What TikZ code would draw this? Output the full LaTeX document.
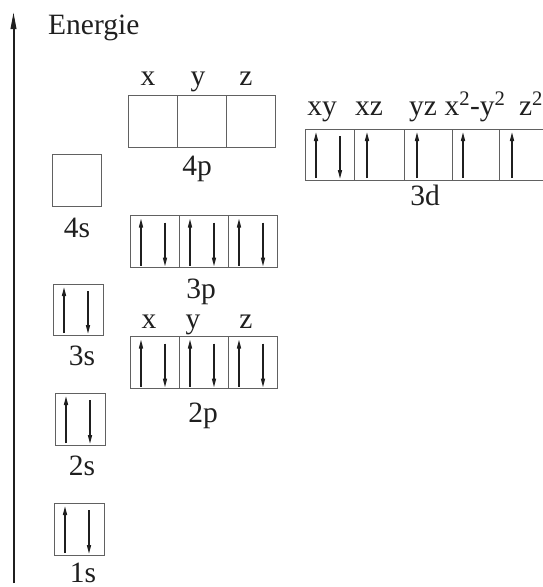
\documentclass[tikz,border=0pt]{standalone}
\usepackage{fontspec}
\setmainfont{Liberation Serif}
\usetikzlibrary{arrows.meta}
\definecolor{boxcol}{rgb}{0.38,0.38,0.38}
\definecolor{inkcol}{rgb}{0.12,0.12,0.12}
\begin{document}
\begin{tikzpicture}[x=1pt,y=-1pt,
  orb/.style={draw=boxcol,line width=0.9pt,minimum width=49pt,minimum height=52pt,inner sep=0pt,outer sep=0pt},
  lbl/.style={anchor=base,inner sep=0pt,text=inkcol,font=\fontsize{29.5}{34}\selectfont},
  spin/.style={line width=1.5pt,draw=inkcol,-{Triangle[length=9pt,width=4pt]}},
  axis/.style={line width=2pt,draw=inkcol,-{Triangle[length=17pt,width=5.5pt]}}]
\useasboundingbox (0,0) rectangle (542,587);
\newcommand\upsp[1]{\draw[spin] ([xshift=11pt,yshift=2pt]#1.south west) -- ([xshift=11pt,yshift=-3pt]#1.north west);}
\newcommand\dnsp[1]{\draw[spin] ([xshift=35pt,yshift=-7pt]#1.north west) -- ([xshift=35pt,yshift=1pt]#1.south west);}
% energy axis
\coordinate (axb) at (13.5,583);
\coordinate (axt) at (13.5,12);
\draw[axis] (axb) -- (axt);
\node[lbl,anchor=base west] (energie) at (48,34) {Energie};
% 4p
\node[orb] (p4x) at (152.5,121) {};
\node[orb] (p4y) at (201.5,121) {};
\node[orb] (p4z) at (250.5,121) {};
\node[lbl] (p4xl) at (148,85) {x};
\node[lbl] (p4yl) at (198,85) {y};
\node[lbl] (p4zl) at (246,85) {z};
\node[lbl] (p4l) at (197,175) {4p};
% 4s
\node[orb] (s4) at (76.5,180) {};
\node[lbl] (s4l) at (77,237) {4s};
% 3d
\node[orb,minimum width=49pt,minimum height=51pt] (dxy) at (329.5,154.5) {};
\node[orb,minimum width=50pt,minimum height=51pt] (dxz) at (379,154.5) {};
\node[orb,minimum width=48pt,minimum height=51pt] (dyz) at (428,154.5) {};
\node[orb,minimum width=47pt,minimum height=51pt] (dx2) at (475.5,154.5) {};
\node[orb,minimum width=49pt,minimum height=51pt] (dz2) at (523.5,154.5) {};
\node[lbl] (dxyl) at (322,115) {xy};
\node[lbl] (dxzl) at (369,115) {xz};
\node[lbl] (dyzl) at (423,115) {yz};
\node[lbl] (dx2l) at (475,115) {x\textsuperscript{2}-y\textsuperscript{2}};
\node[lbl] (dz2l) at (531,115) {z\textsuperscript{2}};
\node[lbl] (d3l) at (425,205) {3d};
\upsp{dxy}\dnsp{dxy}
\draw[spin] ([xshift=13pt,yshift=2pt]dxz.south west) -- ([xshift=13pt,yshift=-3pt]dxz.north west);
\draw[spin] ([xshift=13pt,yshift=2pt]dyz.south west) -- ([xshift=13pt,yshift=-3pt]dyz.north west);
\draw[spin] ([xshift=11pt,yshift=2pt]dx2.south west) -- ([xshift=11pt,yshift=-3pt]dx2.north west);
\draw[spin] ([xshift=13pt,yshift=2pt]dz2.south west) -- ([xshift=13pt,yshift=-3pt]dz2.north west);
% 3p
\node[orb] (p3x) at (154.5,241.5) {};
\node[orb] (p3y) at (203.5,241.5) {};
\node[orb] (p3z) at (252.5,241.5) {};
\upsp{p3x}\dnsp{p3x}\upsp{p3y}\dnsp{p3y}\upsp{p3z}\dnsp{p3z}
\node[lbl] (p3l) at (201,298) {3p};
% 3s
\node[orb,minimum width=50pt,minimum height=51pt] (s3) at (78,309.5) {};
\upsp{s3}\dnsp{s3}
\node[lbl] (s3l) at (82,365) {3s};
% 2p
\node[orb] (p2x) at (154.5,362.5) {};
\node[orb] (p2y) at (203.5,362.5) {};
\node[orb] (p2z) at (252.5,362.5) {};
\upsp{p2x}\dnsp{p2x}\upsp{p2y}\dnsp{p2y}\upsp{p2z}\dnsp{p2z}
\node[lbl] (p2xl) at (149,328) {x};
\node[lbl] (p2yl) at (193,328) {y};
\node[lbl] (p2zl) at (246,328) {z};
\node[lbl] (p2l) at (203,422) {2p};
% 2s
\node[orb,minimum width=50pt,minimum height=52pt] (s2) at (80,419) {};
\upsp{s2}\dnsp{s2}
\node[lbl] (s2l) at (82,475) {2s};
% 1s
\node[orb,minimum width=50pt,minimum height=52pt] (s1) at (79,529) {};
\upsp{s1}\dnsp{s1}
\node[lbl] (s1l) at (83,582) {1s};
\end{tikzpicture}
\end{document}
